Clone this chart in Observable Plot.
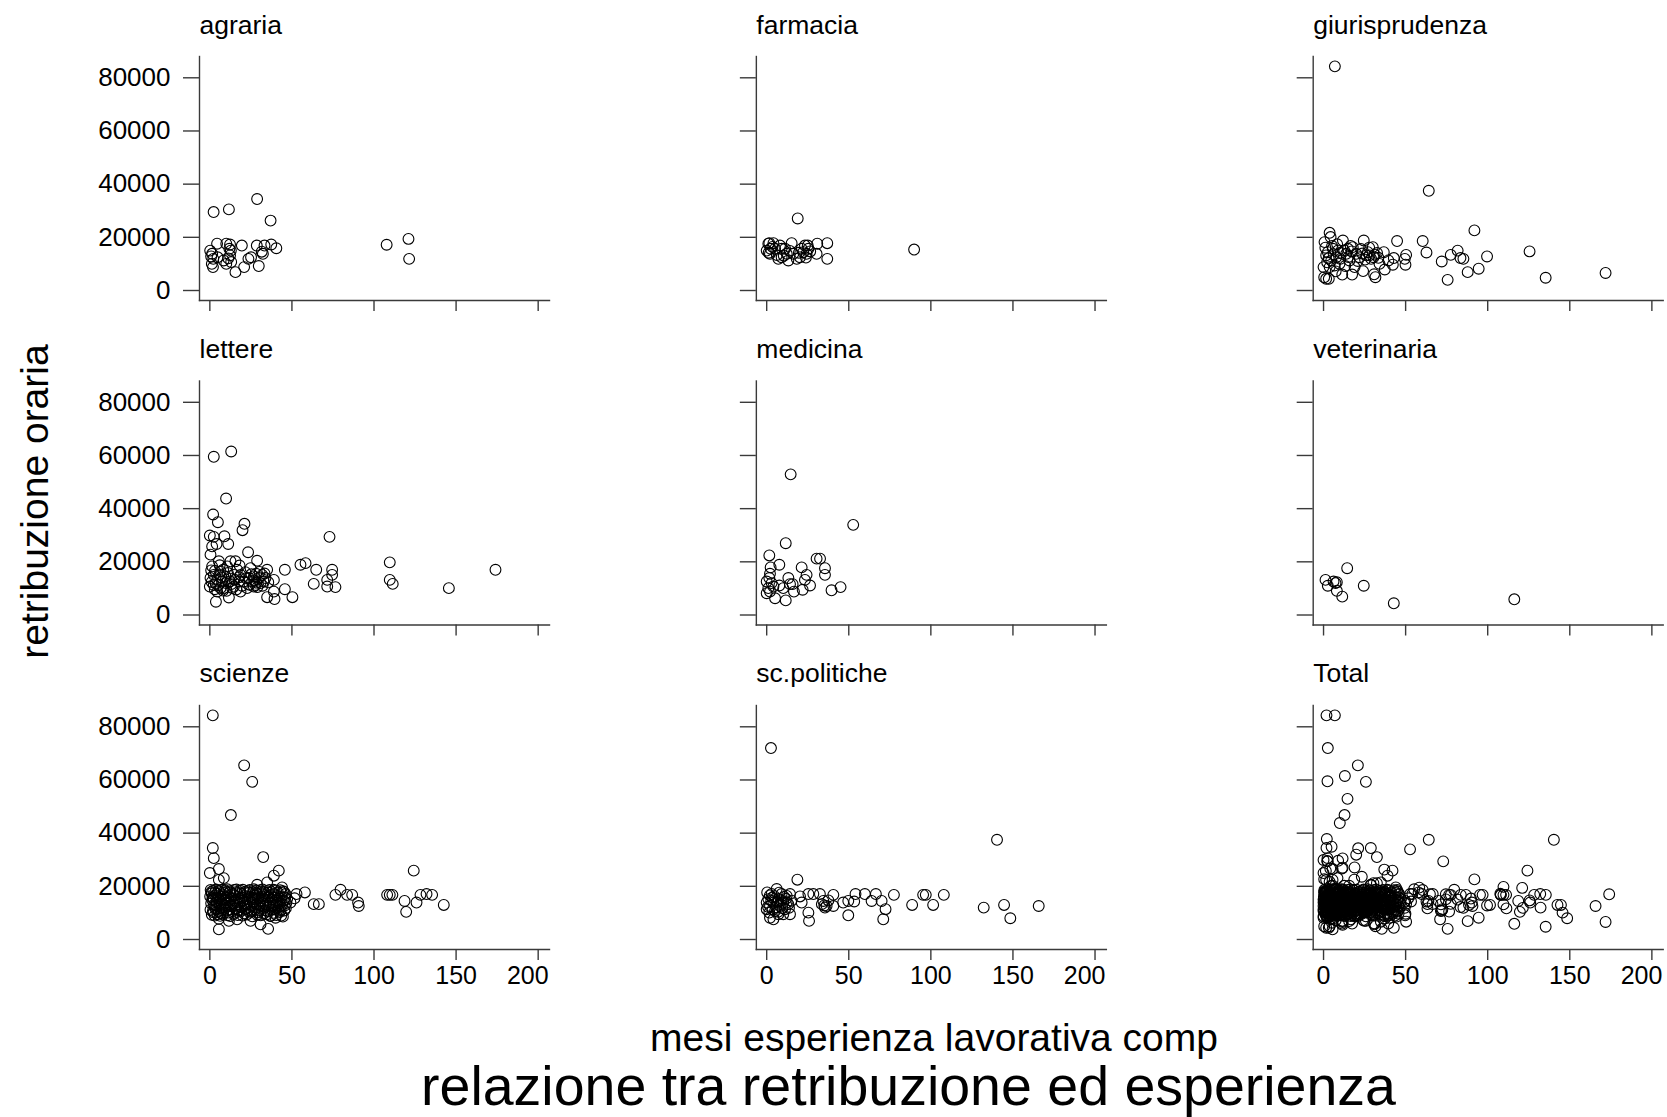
<!DOCTYPE html>
<html><head><meta charset="utf-8">
<script src="https://cdn.jsdelivr.net/npm/d3@7"></script>
<script src="https://cdn.jsdelivr.net/npm/@observablehq/plot@0.6"></script>
<style>
body{margin:0;background:#fff;}
#wrap{position:relative;width:1667px;height:1117px;font-family:"Liberation Sans",Arial,sans-serif;color:#000;overflow:hidden;background:#fff;}
.lbl{position:absolute;white-space:nowrap;text-align:center;}
#chart{position:absolute;left:0;top:0;}
</style></head><body><div id="wrap"><div id="chart"></div>
<div class="lbl" id="ylab" style="left:-266.5px;top:481.5px;width:600px;height:39px;line-height:39px;font-size:39px;transform:rotate(-90deg);"></div>
<div class="lbl" id="xlab" style="left:434px;top:1019px;width:1000px;height:38px;line-height:38px;font-size:39px;"></div>
<div class="lbl" id="title" style="left:308.5px;top:1059px;width:1200px;height:50px;line-height:55px;font-size:55.5px;"></div>
</div>
<script>
// ---- texts ----
const facetNames = ["agraria", "farmacia", "giurisprudenza", "lettere", "medicina", "veterinaria", "scienze", "sc.politiche", "Total"];
const yTicks = [0, 20000, 40000, 60000, 80000];
const xTicks = [0, 50, 100, 150, 200];
const yLabel = "retribuzione oraria";
const xLabel = "mesi esperienza lavorativa comp";
const titleText = "relazione tra retribuzione ed esperienza";

// ---- data: [mesi esperienza, retribuzione oraria] ----
const agraria = [
[2.3,29500],[11.6,30500],[28.8,34400],[37,26300],[107.7,17200],[121,19400],[121.4,11900],
[0.2,15000],[1.4,13800],[2.1,11900],[1.2,10000],[1.9,8800],[4.4,17600],[8.4,11300],[10,17600],[12.3,17300],
[12.8,15000],[12.3,13200],[13,10700],[15.6,6900],[19.5,16900],[20.9,8800],[23.5,11900],[25.1,12500],[28.6,16900],
[29.8,9200],[32.3,13800],[33.3,16900],[37.4,17300],[40.5,15900],[4.7,12500],[10,10000],[11.9,15700],
[0.8,12800],[11.2,12100],[31.6,14600]
];
const farmacia = [
[18.9,27100],[89.8,15400],[0,15000],[1,17600],[2,13800],[1.6,17800],[4.1,17800],[5.1,15700],[8.1,16900],
[9.1,12500],[11.2,15700],[12.2,13800],[15.2,17800],[16.2,13800],[18.3,11900],[20.3,12500],[21.3,15700],
[23.3,16900],[24.3,13800],[25.4,15700],[30.4,13800],[30.8,17600],[36.9,17800],[36.9,11900],[7.1,11900],
[13.2,11300],[22.3,14400],[25,16900],[2.4,15700],[9.1,15700],[1.2,14200],[3.5,16400],[10.4,13100],
[14.1,14900],[19.6,14200],[23.9,12400],[26.5,14700],[6.2,13300]
];
const giurisprudenza = [
[6.9,84300],[64.1,37500],[91.9,22600],[125.5,14700],[135.3,4800],[171.8,6600],[99.6,12800],[94.5,8200],
[87.8,6900],[85.2,11900],[83.4,12200],[81.7,15000],[77.5,13400],[75.6,4000],[72,10900],[62.7,14300],
[60.4,18600],[49.9,9700],[50.3,13400],[49.5,11900],[44.8,18600],[42.2,9700],[42.8,12200],[37.3,7900],
[36.7,14400],[31.6,5000],[30,16300],[30.4,12500],[24.5,18800],[26,13200],[17.8,16300],[17.4,6000],
[11.8,18800],[11.4,6000],[3.7,21700],[4.3,20100],[0.6,18200],[0,8800],[0.4,5000],[3.2,4400],[1.6,13200],
[5.7,15700],[7.7,12500],[9.7,10000],[13.8,13800],[15.8,11300],[18.9,8800],[21.9,12500],[27,14400],
[29,11900],[34.1,10000],[2.6,14400],[4.7,11300],[8.7,15000],[14.8,15700],[19.9,13800],[28,13200],
[3.7,8800],[6.7,9400],[1.6,4400],[5.2,16800],[10.5,14200],[22.8,15600],[32.6,14100],[16.5,16800],
[1.1,16100],[3.1,12100],[6.2,13600],[8.3,17400],[10.2,11900],[12.6,15100],[15.1,12600],[17.2,14700],
[20.8,11100],[23.6,13900],[25.3,11600],[27.8,16100],[31.2,13500],[33.4,12300],[2.2,10600],[7.4,7200],
[13.2,9200],[24.1,7300],[30.8,6100],[39.5,11300]
];
const lettere = [
[2.4,59500],[13,61500],[9.9,43800],[2,37800],[4.9,34900],[21.1,34300],[19.9,31900],[72.9,29400],
[0,29900],[2.4,29400],[8.9,29600],[4.1,26700],[11.2,26700],[0.4,22700],[23.3,23600],[1.4,25800],
[28.8,20400],[45.7,17000],[55.2,18900],[58.3,19500],[64.8,17000],[63.3,11700],[74.5,17000],[74.5,15100],
[71.5,13200],[71.5,10700],[76.5,10500],[109.6,19800],[109.6,13200],[111.4,11700],[145.6,10100],[174,17000],
[50.3,6700],[39.4,6000],[34.9,6700],[39,8800],[45.7,9700],[39,13200],[34.9,17000],[3.7,5000],[11.6,6600],
[18.7,8800],[28.4,12200],
[0,10700],[0.4,13900],[1.4,18300],[2.4,15100],[3.5,12000],[4.5,8800],[5.5,20200],[6.5,16400],[7.5,12600],
[8.5,10100],[9.5,14500],[10.6,18300],[12.2,12600],[13.6,10100],[14.6,15100],[15.6,20200],[16.6,17000],
[17.7,12600],[18.7,15100],[20.7,12600],[22.7,10100],[23.8,13900],[24.8,17600],[25.8,12600],[26.8,14500],
[27.8,11300],[29.8,13900],[30.9,12000],[31.9,15100],[32.9,12600],[33.9,13900],[6.5,10100],[2.4,11300],
[4.5,13200],[8.1,17000],[14.6,10700],[26.8,10700],[12.6,20200],
[1.1,12400],[3.1,16600],[5.1,11200],[7.0,14200],[8.0,9200],[9.9,12000],[11.0,15800],[13.1,11600],
[15.0,13300],[16.1,9600],[17.9,14200],[19.6,11000],[21.6,16100],[24.2,11400],[25.3,15300],[27.1,13000],
[29.0,10500],[30.3,16200],[32.1,11000],[33.3,15600],[35.6,12300],[3.0,9700],[6.0,18700],[10.2,9100],
[18.1,18600],[22.0,13800],[28.2,15500],[0.8,16800],[5.8,15200],[12.8,13700]
];
const medicina = [
[14.6,52900],[52.7,33900],[11.6,27000],[1.6,22400],[7.7,18900],[2.4,17900],[2,15500],[21.3,17900],
[30.4,21200],[32.5,21200],[35.5,17600],[35.5,15100],[24.3,15100],[23.3,13200],[26.4,11100],[39.5,9300],
[45,10500],[21.9,9500],[13.2,13900],[15.8,11600],[16.6,8800],[11.6,5500],[5.1,6300],[0,12600],[1,10100],
[0,8200],[2,8800],[4.1,10700],[7.7,11100],[10.1,10100],[14.2,11600],[1.6,13900],[3,12000]
];
const veterinaria = [
[1.2,13200],[2.6,11000],[7.3,12000],[8.1,12300],[8.1,9100],[11.4,6900],[14.4,17600],[24.5,11000],
[42.8,4400],[116.2,5900],[6.1,12600]
];
const scienze = [
[1.8,84300],[20.9,65500],[25.8,59300],[12.8,46800],[1.8,34400],[2.4,30600],[32.5,31000],[5.5,26500],
[0,25000],[8.5,23100],[5.5,22400],[42,25900],[39,24000],[34.9,21500],[28.8,20600],[44,19600],[124.2,25900],
[5.5,3800],[35.5,4000],[30.9,5700],[44.5,8600],[40,8200],[36.9,8800],[11.6,7000],[16.6,7600],[24.8,7000],
[5.5,7800],
[51.6,15500],[52.8,17100],[57.9,17700],[63.3,13300],[66.4,13300],[76.5,16800],[79.6,18700],[83.6,16800],
[86.7,16800],[90.3,13900],[90.7,12600],[108,16800],[109.6,16800],[111.2,16800],[118.6,14500],[119.6,10400],
[125.9,13900],[128.3,16800],[132,17100],[135.4,16800],[142.5,13000],[47.1,15200],[49.1,13900],
[0.5,18600],[2.1,18400],[3.8,18800],[5.2,18300],[7.4,18700],[9.1,18500],[10.6,18900],[12.3,18200],
[14.8,18600],[16.2,18800],[18.5,18400],[20.1,18700],[22.7,18300],[24.3,18600],[26.8,18900],[28.2,18400],
[30.6,18500],[32.1,18800],[34.5,18300],[36.3,18600],[38.9,18700],[40.2,18400],[42.8,18500],[44.6,18200],
[0.2,16200],[1.7,15800],[3.3,16500],[4.9,15600],[6.6,16100],[8.2,16700],[9.8,15900],[11.5,16300],
[13.1,15500],[15.4,16600],[17.2,16000],[19.6,15700],[21.3,16400],[23.8,16100],[25.5,15800],[27.1,16500],
[29.4,15600],[31.8,16200],[33.2,16800],[35.7,15900],[37.4,16300],[39.6,15700],[41.3,16400],[43.7,16000],
[45.9,15800],
[0.8,13600],[2.5,13200],[4.1,13900],[5.8,13400],[7.3,13100],[9.5,13800],[11.1,13500],[12.7,13000],
[14.2,13700],[16.8,13300],[18.1,13900],[20.6,13600],[22.2,13100],[24.9,13400],[26.3,13800],[28.7,13200],
[30.2,13500],[32.6,13700],[34.1,13000],[36.8,13600],[38.2,13300],[40.7,13800],[42.4,13400],[44.2,13100],
[0.4,11200],[1.9,10800],[3.6,11500],[5.4,10600],[6.9,11100],[8.7,11400],[10.3,10900],[12,11300],
[13.6,10700],[15.9,11600],[17.7,11000],[19.2,10800],[21.8,11400],[23.4,11200],[25.1,10600],[27.6,11300],
[29.9,10900],[31.3,11500],[33.7,11000],[35.2,10700],[37.9,11200],[39.3,11400],[41.8,10800],[43.2,11100],
[45.4,10900],
[1.2,9300],[3,9000],[4.6,9500],[6.3,8900],[8,9400],[10.8,9100],[12.5,8800],[14.5,9600],[17,9200],
[19.9,9000],[22.5,9400],[25.8,8700],[28.9,9300],[31,9100],[34.8,9500],[37.1,8900],[40.5,9200],[43.5,9000],
[1.1,17400],[4.4,17200],[8.8,17500],[13.9,17100],[19,17300],[24,17600],[29,17200],[33.9,17400],[39,17100],
[43.9,17500],
[1.4,14900],[6,14600],[10.1,15000],[15,14700],[20.4,14800],[26,15100],[30.9,14500],[35,14900],[40,14700],
[45,14600],
[2.8,12400],[7.8,12100],[12.9,12500],[18.9,12200],[23,12300],[27.9,12000],[32.8,12400],[38.5,12600],[42,12200],
[0.9,17900],[3.2,17700],[6.1,17800],[9.7,17900],[12.1,17600],[15.9,17800],[18.1,17700],[21.4,17900],
[23.1,17700],[26.3,17800],[28.1,17600],[31.4,17900],[35.6,17700],[37.6,17800],[41.5,17600],[45.2,17900],
[2.3,15300],[5.1,15400],[8.9,15200],[12.6,15300],[17.9,15400],[22.9,15200],[27.8,15300],[32.4,15400],
[37.9,15200],[42.6,15300],[3.9,12800],[9.1,12900],[15.6,12700],[21.1,12800],[25.7,12900],[30.4,12700],
[36.1,12800],[40.9,12900],[45.6,12800],[2.1,10200],[6.6,9900],[11.4,10100],[16.4,10300],[20.9,9800],
[24.3,10100],[29.3,10200],[33.1,9900],[38.7,10000],[42.6,10300],[46.3,11800],[46.6,13700],[46.1,17100]
];
const scpolitiche = [
[2.6,72000],[140.3,37500],[18.7,22500],[165.7,12600],[144.6,13000],[148.4,8000],[132.2,12000],[107.9,16800],
[101.4,13000],[95.3,16800],[96.9,16800],[88.6,13000],[77.5,16800],[72.4,11400],[71,7600],[70,14500],
[66.5,17100],[63.9,14500],[59.8,17100],[54.1,17100],[53.3,14300],[49.7,9100],[49.7,14500],[46.6,13900],
[40.6,16800],[40.6,12600],[35.5,12000],[32.4,17100],[34.5,14500],[28.4,17100],[25.4,17100],[25.4,10100],
[25.8,7000],[21.3,13900],[20.3,16200],[36.5,12600],
[0,13900],[0,11400],[0.3,17700],[1,15200],[2,12600],[2,8200],[3,17100],[4.1,13900],[5.1,10700],[6.1,19000],
[7.1,15200],[8.1,12600],[9.1,17100],[10.1,13900],[11.2,11400],[12.2,16400],[13.2,13300],[14.2,17100],
[14.2,9500],[4.1,7600],[1.6,10100],[7.1,9500],[10.1,9500],[12.2,13900],[3.5,15800],[6.5,14100],[9.5,11800],
[0.8,12300],[2.8,14600],[4.6,16300],[5.8,12100],[8.6,14700],[11.7,15300],[13.6,11900],[1.9,16600],
[7.6,17600],[10.6,16000],[3.6,11300],[6.9,10400],[15.1,14600],[33.6,13300],[35.1,12800],[37.6,14700]
];

// ---- build facet table ----
const groups = [agraria, farmacia, giurisprudenza, lettere, medicina, veterinaria, scienze, scpolitiche];
const rows = [];
groups.forEach((pts, i) => pts.forEach(([x, y]) => rows.push({x, y, col: i % 3, row: Math.floor(i / 3)})));
groups.forEach(pts => pts.forEach(([x, y]) => rows.push({x, y, col: 2, row: 2})));
const titles = facetNames.map((name, i) => ({name, col: i % 3, row: Math.floor(i / 3)}));

const axisColor = "#3a3a3a";
const fmt = d => String(d);
const lastTick = xTicks[xTicks.length - 1];

const chart = Plot.plot({
  width: 1667,
  height: 1000,
  marginLeft: 199,
  marginRight: 4.3,
  marginTop: 56,
  marginBottom: 51,
  style: {fontFamily: '"Liberation Sans", Arial, sans-serif', fontSize: "26px", background: "white", color: "black"},
  facet: {marginTop: 0, marginRight: 0, marginBottom: 0, marginLeft: 0},
  fx: {domain: [0, 1, 2], paddingInner: 0.37146, paddingOuter: 0, round: false, axis: null},
  fy: {domain: [0, 1, 2], paddingInner: 0.24807, paddingOuter: 0, round: false, axis: null},
  x: {domain: [-6.3, 206.9], axis: null},
  y: {domain: [-3760, 88010], axis: null},
  marks: [
    Plot.frame({anchor: "left", stroke: axisColor, strokeWidth: 1.4}),
    Plot.frame({anchor: "bottom", stroke: axisColor, strokeWidth: 1.4}),
    Plot.axisY({ticks: yTicks, tickSize: 16, fill: "none", stroke: axisColor, strokeWidth: 1.4, facetAnchor: null}),
    Plot.axisY({ticks: yTicks, tickSize: 0, tickPadding: 29, fontSize: 26, fill: "black", tickFormat: fmt, label: null, facetAnchor: "left"}),
    Plot.axisX({ticks: xTicks, tickSize: 11, fill: "none", stroke: axisColor, strokeWidth: 1.4, facetAnchor: null}),
    Plot.axisX({ticks: xTicks.filter(t => t !== lastTick), tickSize: 0, tickPadding: 17, fontSize: 25, fill: "black", tickFormat: fmt, label: null, facetAnchor: "bottom"}),
    Plot.axisX({ticks: [lastTick], tickSize: 0, tickPadding: 17, fontSize: 25, fill: "black", tickFormat: fmt, label: null, facetAnchor: "bottom", textAnchor: "end", dx: 10.5}),
    Plot.text(titles, {fx: "col", fy: "row", text: "name", frameAnchor: "top-left", textAnchor: "start", lineAnchor: "bottom", dy: -23, fontSize: 26.5, fill: "black"}),
    Plot.dot(rows, {x: "x", y: "y", fx: "col", fy: "row", r: 5.4, stroke: "black", strokeWidth: 1.1, fill: "none"})
  ]
});
document.getElementById("chart").appendChild(chart);
document.getElementById("ylab").textContent = yLabel;
document.getElementById("xlab").textContent = xLabel;
document.getElementById("title").textContent = titleText;
</script></body></html>
